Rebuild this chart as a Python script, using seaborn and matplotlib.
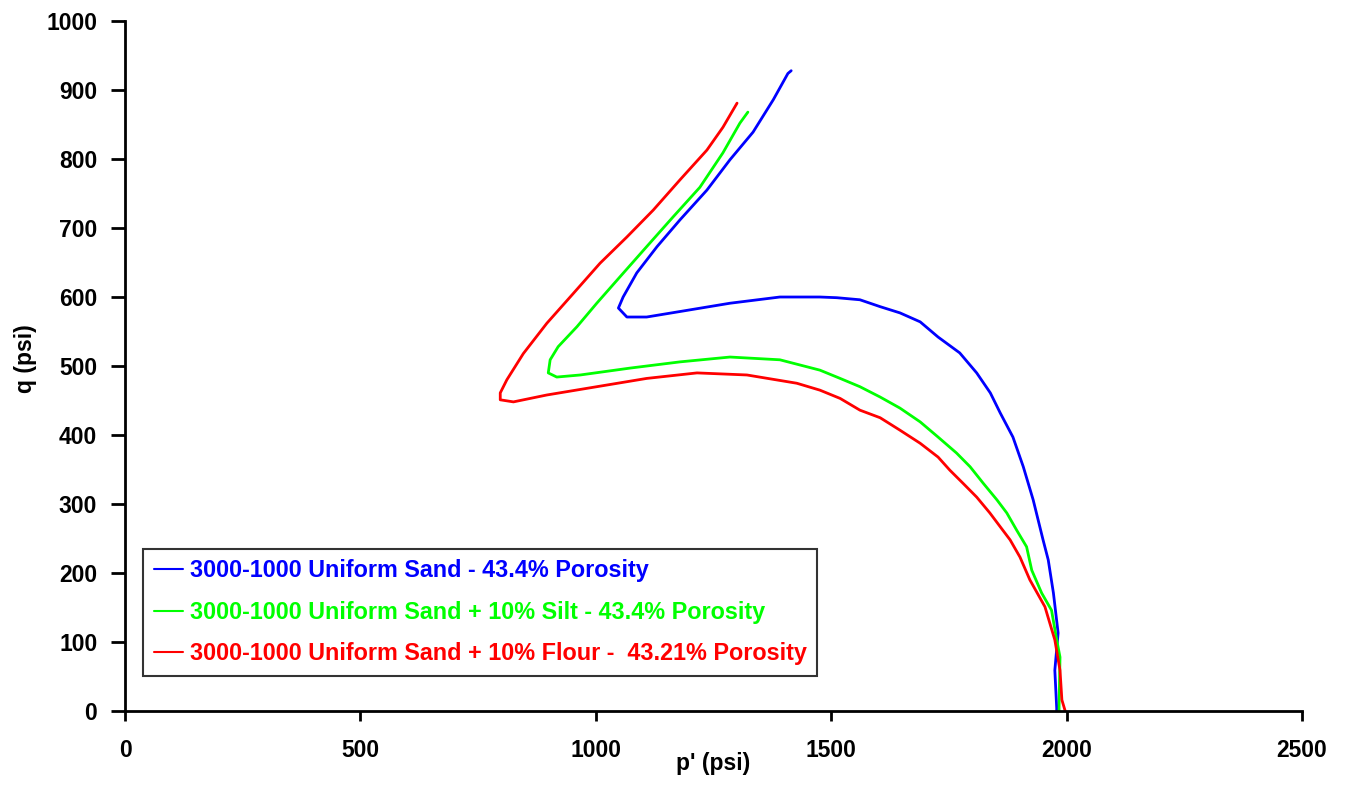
import matplotlib
matplotlib.use("Agg")
import matplotlib.pyplot as plt
import pandas as pd
import seaborn as sns


# stress paths (p' and q in psi)
labels = [
    "3000-1000 Uniform Sand - 43.4% Porosity",
    "3000-1000 Uniform Sand + 10% Silt - 43.4% Porosity",
    "3000-1000 Uniform Sand + 10% Flour -  43.21% Porosity",
]
colors = ["#0000FF", "#00FF00", "#FF0000"]

p_blue = [1979, 1979, 1975, 1982, 1972, 1961, 1950, 1929, 1908, 1886, 1859, 1838,
          1809, 1773, 1727, 1689, 1646, 1604, 1561, 1512, 1476, 1391, 1285, 1179,
          1108, 1066, 1048, 1058, 1087, 1130, 1179, 1236, 1285, 1334, 1377, 1408, 1415]
q_blue = [0, 4, 59, 113, 171, 219, 248, 306, 354, 397, 432, 461,
          490, 519, 542, 564, 577, 586, 596, 599, 600, 600, 591, 579,
          571, 571, 584, 600, 635, 673, 712, 755, 799, 839, 886, 924, 928]

p_green = [1984, 1984, 1986, 1979, 1968, 1947, 1926, 1915, 1894, 1873, 1852, 1823,
           1795, 1766, 1727, 1689, 1646, 1604, 1561, 1519, 1476, 1391, 1285, 1179,
           1073, 967, 917, 899, 903, 920, 960, 1002, 1051, 1108, 1164, 1221, 1270,
           1306, 1323]
q_green = [0, 6, 78, 103, 146, 171, 204, 238, 262, 287, 306, 330,
           354, 374, 397, 419, 439, 455, 470, 482, 494, 509, 513, 506,
           497, 487, 484, 490, 509, 528, 557, 591, 629, 673, 716, 759, 809,
           852, 868]

p_red = [1997, 1990, 1986, 1975, 1954, 1922, 1901, 1880, 1859, 1837, 1809, 1780,
         1752, 1727, 1689, 1646, 1604, 1561, 1519, 1476, 1427, 1321, 1215, 1108,
         1002, 896, 825, 797, 797, 811, 846, 896, 952, 1009, 1066, 1122, 1179,
         1236, 1270, 1300]
q_red = [0, 16, 59, 103, 151, 190, 223, 248, 267, 287, 310, 330,
         349, 368, 388, 407, 425, 436, 453, 465, 475, 487, 490, 482,
         470, 458, 448, 451, 461, 480, 518, 562, 605, 649, 687, 726, 770,
         813, 846, 881]

x_ticks = [0, 500, 1000, 1500, 2000, 2500]
y_ticks = [0, 100, 200, 300, 400, 500, 600, 700, 800, 900, 1000]


def main():
    sns.set_style("white")
    plt.rcParams["font.family"] = ["Liberation Sans", "DejaVu Sans"]
    plt.rcParams["font.weight"] = "bold"

    frames = []
    for lab, p, q in zip(labels, [p_blue, p_green, p_red], [q_blue, q_green, q_red]):
        d = pd.DataFrame({"p": p, "q": q})
        d["test"] = lab
        frames.append(d)
    df = pd.concat(frames, ignore_index=True)

    fig = plt.figure(figsize=(13.46, 7.85), dpi=100)
    ax = fig.add_axes([0.0929, 0.0943, 0.8744, 0.8789])

    sns.lineplot(data=df, x="p", y="q", hue="test", palette=colors,
                 sort=False, estimator=None, units="test", linewidth=2, ax=ax)

    ax.set_xlim(0, 2500)
    ax.set_ylim(0, 1000)
    ax.set_xticks(x_ticks)
    ax.set_yticks(y_ticks)
    ax.tick_params(axis="x", bottom=True, direction="out", length=7, width=2, pad=13,
                   labelsize=16.5, color="black", labelcolor="black")
    ax.tick_params(axis="y", left=True, direction="out", length=10, width=2, pad=10,
                   labelsize=16.5, color="black", labelcolor="black")
    for t in ax.get_xticklabels() + ax.get_yticklabels():
        t.set_fontweight("bold")

    sns.despine(ax=ax)
    for s in ["left", "bottom"]:
        ax.spines[s].set_linewidth(2)
        ax.spines[s].set_color("black")

    ax.set_xlabel("p' (psi)", fontsize=16.5, fontweight="bold", color="black")
    ax.set_ylabel("q (psi)", fontsize=16.5, fontweight="bold", color="black")
    ax.xaxis.set_label_coords(0.5, -0.06)
    ax.yaxis.set_label_coords(-0.075, 0.51)

    leg = ax.legend(loc="lower left", bbox_to_anchor=(0.0153, 0.0507),
                    borderaxespad=0, frameon=True, fancybox=False,
                    prop={"size": 16.8, "weight": "bold"}, handlelength=1.25,
                    handletextpad=0.3, labelspacing=0.8, borderpad=0.45,
                    title=None)
    leg.get_frame().set_edgecolor("black")
    leg.get_frame().set_linewidth(1.5)
    for txt, c in zip(leg.get_texts(), colors):
        txt.set_color(c)
    for h in leg.get_lines():
        h.set_linewidth(1.5)

    fig.savefig("out.png", dpi=100)


if __name__ == "__main__":
    main()
